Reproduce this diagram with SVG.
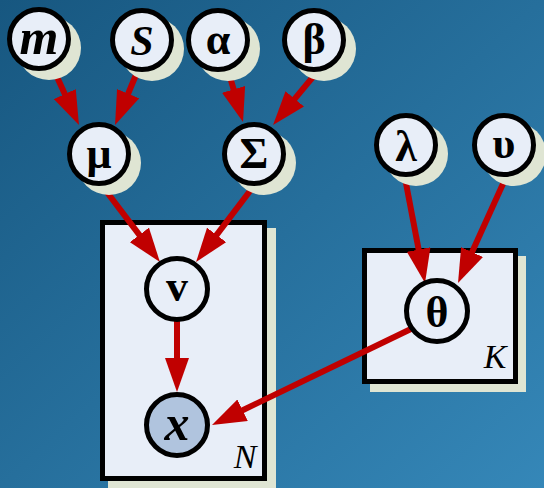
<svg xmlns="http://www.w3.org/2000/svg" width="544" height="488" viewBox="0 0 544 488">
<defs>
<linearGradient id="bg" x1="0" y1="0" x2="1" y2="1">
<stop offset="0" stop-color="#175780"/>
<stop offset="1" stop-color="#3587b8"/>
</linearGradient>
<marker id="ah" viewBox="0 0 34 24" refX="4" refY="12" markerWidth="34" markerHeight="24" markerUnits="userSpaceOnUse" orient="auto">
<path d="M0,0 L34,12 L0,24 z" fill="#c00000"/>
</marker>
<style>
.sh{fill:#dfe5d3}
.nd{fill:#e8eef8;stroke:#000;stroke-width:5}
.obs{fill:#b0c4de;stroke:#000;stroke-width:5}
.pl{fill:#e8eef8;stroke:#000;stroke-width:5}
.lb{font-family:"Liberation Serif",serif;font-weight:bold;font-size:44px;text-anchor:middle;fill:#000}
.it{font-style:italic}
.pn{font-family:"Liberation Serif",serif;font-style:italic;font-size:34px;text-anchor:middle;fill:#000}
.e{stroke:#c00000;stroke-width:6;fill:none;marker-end:url(#ah)}
</style>
</defs>
<rect width="544" height="488" fill="url(#bg)"/>
<g id="plate-N">
<rect x="108" y="228" width="168" height="261" class="sh"/>
<rect x="102.5" y="222.5" width="162" height="256" class="pl"/>
<text x="245" y="468" class="pn">N</text>
</g>
<g id="plate-K">
<rect x="370" y="256" width="156" height="136" class="sh"/>
<rect x="364.5" y="250.5" width="151" height="131" class="pl"/>
<text x="495" y="368" class="pn">K</text>
</g>
<g id="connectors">
<line x1="52" y1="66" x2="66.5" y2="97.7" class="e"/>
<line x1="138" y1="70" x2="126.6" y2="97.3" class="e"/>
<line x1="228" y1="70" x2="234.7" y2="93.2" class="e"/>
<line x1="317" y1="72" x2="292.2" y2="101.9" class="e"/>
<line x1="100" y1="183" x2="141.8" y2="238.1" class="e"/>
<line x1="256" y1="183" x2="214.2" y2="238.1" class="e"/>
<line x1="177" y1="320" x2="177" y2="362" class="e"/>
<line x1="413" y1="328" x2="239" y2="412" class="e"/>
<line x1="405" y1="178" x2="419.4" y2="253.5" class="e"/>
<line x1="507" y1="175" x2="470.4" y2="255.7" class="e"/>
</g>
<g id="node-m"><circle cx="49" cy="48" r="32" class="sh"/><circle cx="39" cy="39" r="29.5" class="nd"/><text x="39" y="54" class="lb it" style="font-size:50px">m</text></g>
<g id="node-S"><circle cx="152" cy="49" r="32" class="sh"/><circle cx="142" cy="40" r="29.5" class="nd"/><text x="142" y="55" class="lb it" style="font-size:42px">S</text></g>
<g id="node-alpha"><circle cx="228" cy="49" r="32" class="sh"/><circle cx="218" cy="40" r="29.5" class="nd"/><text x="218" y="54" class="lb">α</text></g>
<g id="node-beta"><circle cx="324" cy="49" r="32" class="sh"/><circle cx="314" cy="40" r="29.5" class="nd"/><text x="314" y="54" class="lb">β</text></g>
<g id="node-mu"><circle cx="109" cy="163" r="32" class="sh"/><circle cx="99" cy="154" r="29.5" class="nd"/><text x="99" y="168" class="lb">μ</text></g>
<g id="node-Sigma"><circle cx="264" cy="163" r="32" class="sh"/><circle cx="254" cy="154" r="29.5" class="nd"/><text x="254" y="168" class="lb">Σ</text></g>
<g id="node-lambda"><circle cx="416" cy="154" r="32" class="sh"/><circle cx="406" cy="145" r="29.5" class="nd"/><text x="406" y="161" class="lb">λ</text></g>
<g id="node-upsilon"><circle cx="514" cy="154" r="32" class="sh"/><circle cx="504" cy="145" r="29.5" class="nd"/><text x="504" y="158" class="lb">υ</text></g>
<g id="node-v"><circle cx="177" cy="289" r="30.5" class="nd"/><text x="177" y="301" class="lb">v</text></g>
<g id="node-x"><circle cx="177" cy="425" r="30.5" class="obs"/><text x="177" y="440" class="lb it" style="font-size:50px">x</text></g>
<g id="node-theta"><circle cx="437" cy="311" r="30.5" class="nd"/><text x="437" y="327" class="lb">θ</text></g>
</svg>
